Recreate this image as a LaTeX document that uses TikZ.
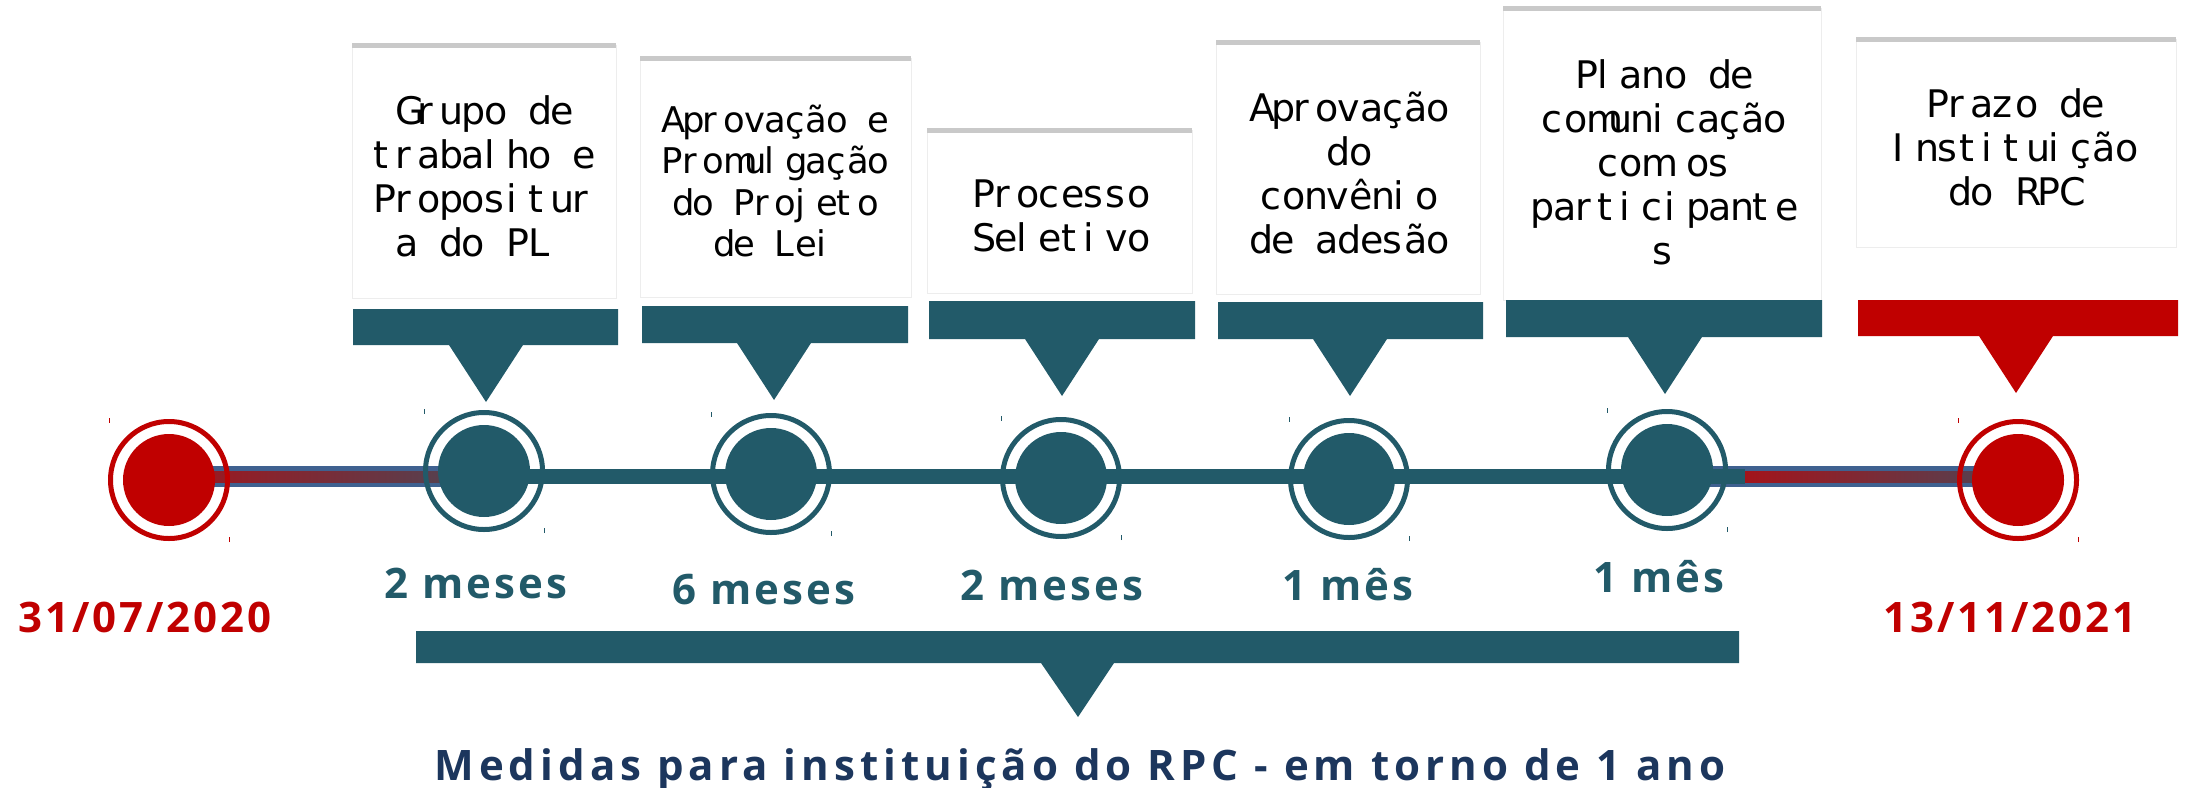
\documentclass[tikz,border=0pt]{standalone}
\usepackage{fontspec}
\setmainfont{DejaVu Sans}
\newfontfamily\boxfont{DejaVu Sans}
\newfontfamily\lblfont[LetterSpace=7]{Open Sans}
\newfontfamily\capfont[LetterSpace=12]{Open Sans}
\usetikzlibrary{positioning,calc}

\definecolor{rpcteal}{HTML}{225A69}
\definecolor{rpcred}{HTML}{C00000}
\definecolor{rpcnavy}{HTML}{1C365D}
\definecolor{bandblue}{HTML}{3F6190}
\definecolor{bandred}{HTML}{A3141B}
\definecolor{banddark}{HTML}{4C4656}
\definecolor{topgray}{HTML}{C9C9C9}
\definecolor{edgegray}{HTML}{EDEDED}

% every letter of the box texts sits in a cell of the same width
\makeatletter
\newcommand\cellw{11.1pt}
\newcommand\mono[1]{\@tfor\monoch:=#1\do{\makebox[\cellw][l]{\monoch}}}
\makeatother

\begin{document}
\begin{tikzpicture}[x=0.5pt,y=-0.5pt,
    boxtext/.style={font=\boxfont\fontsize{19pt}{22pt}\selectfont, align=center, inner sep=0pt},
    lbl/.style={font=\lblfont\bfseries\fontsize{21pt}{24pt}\selectfont, text=#1, anchor=base, inner sep=0pt},
    dot/.style={circle, fill=#1, minimum size=46pt, inner sep=0pt},
    ring/.style={draw=#1, line width=2.5pt},
    band/.style={bandblue, line width=10.5pt},
    mainline/.style={rpcteal, line width=7.5pt}]
    \useasboundingbox (0,0) rectangle (2187,787);

    % white boxes with grey top edge
    \foreach \xl/\xr/\yt/\yb in {352/616/45/298, 640/911/58/297, 927/1192/130/293,
                                 1216/1480/42/294, 1503/1821/8/300, 1856/2176/39/247} {
        \draw[edgegray, thin] (\xl,\yt) rectangle (\xr,\yb);
        \draw[topgray, line width=2.5pt] (\xl,\yt) -- (\xr,\yt);
    }

    % callout bars
    \foreach \xl/\xr/\yt/\yb/\ax/\ay/\col in {353/618/309/345/486/402/rpcteal, 642/908/306/343/774/400/rpcteal,
            929/1195/301/339/1062/396/rpcteal, 1218/1483/302/339/1350/396/rpcteal,
            1506/1822/300/337/1665/394/rpcteal, 1858/2178/300/336/2016/393/rpcred} {
        \fill[\col] (\xl,\yt) -- (\xr,\yt) -- (\xr,\yb) -- (\ax+37,\yb) -- (\ax,\ay)
            -- (\ax-37,\yb) -- (\xl,\yb) -- cycle;
    }

    \node[boxtext] (grupo) at (484,176) {\mono{Grupo~de}\\\mono{trabalho~e}\\\mono{Propositur}\\\mono{a~do~PL~}};
    \node[boxtext, font=\boxfont\fontsize{17.7pt}{20.7pt}\selectfont\renewcommand\cellw{10.3pt}] (aprov) at (775,181)
        {\mono{Aprovação~e}\\\mono{Promulgação}\\\mono{do~Projeto}\\\mono{de~Lei}};
    \node[boxtext] (processo) at (1061,216) {\mono{Processo}\\\mono{Seletivo}};
    \node[boxtext] (convenio) at (1349,173) {\mono{Aprovação}\\\mono{do}\\\mono{convênio}\\\mono{de~adesão}};
    \node[boxtext] (plano) at (1664,162) {\mono{Plano~de}\\\mono{comunicação}\\\mono{com~os}\\\mono{participante}\\\mono{s}};
    \node[boxtext] (prazo) at (2015,147) {\mono{Prazo~de}\\\mono{Instituição}\\\mono{do~RPC}};

    % time line
    \coordinate (p0) at (169,480);
    \coordinate (p1) at (484,471);
    \coordinate (p2) at (771,474);
    \coordinate (p3) at (1061,478);
    \coordinate (p4) at (1349,479);
    \coordinate (p5) at (1667,470);
    \coordinate (p6) at (2018,480);
    \coordinate (ty) at (0,476.5);
    \coordinate (tlend) at (1745,476.5);

    \draw[band] (p0 |- ty) -- (p1 |- ty);
    \draw[band] (p5 |- ty) -- (p6 |- ty);
    \shade[left color=bandred, right color=banddark] ($(p0 |- ty)+(0,-5.5)$) rectangle ($(p1 |- ty)+(0,5.5)$);
    \shade[left color=bandred, right color=banddark] ($(tlend)+(0,-5.5)$) rectangle ($(p6 |- ty)+(0,5.5)$);
    \draw[mainline] (p1 |- ty) -- (tlend);

    \foreach \i/\col in {0/rpcred, 1/rpcteal, 2/rpcteal, 3/rpcteal, 4/rpcteal, 5/rpcteal, 6/rpcred} {
        \node[dot=\col] (d\i) at (p\i) {};
        \draw[ring=\col] (d\i.center) circle (58.5);
        \draw[\col, thin] (d\i.center) ++(-60,-62) -- ++(0,5) (d\i.center) ++(60,62) -- ++(0,-5);
    }

    % durations and dates
    \node[lbl=rpcteal] (m1) at (476,598) {2 meses};
    \node[lbl=rpcteal] (m2) at (764,604) {6 meses};
    \node[lbl=rpcteal] (m3) at (1052,600) {2 meses};
    \node[lbl=rpcteal] (m4) at (1348,600) {1 mês};
    \node[lbl=rpcteal] (m5) at (1659,592) {1 mês};
    \node[lbl=rpcred] (start) at (145,632) {31/07/2020};
    \node[lbl=rpcred] (finish) at (2010,632) {13/11/2021};

    % overall span
    \fill[rpcteal] (416,631) -- (1739,631) -- (1739,663) -- (1114,663) -- (1078,717)
        -- (1041,663) -- (416,663) -- cycle;
    \node[lbl=rpcnavy, font=\capfont\bfseries\fontsize{21pt}{24pt}\selectfont] (medidas) at (1080,780)
        {Medidas para instituição do RPC - em torno de 1 ano};
\end{tikzpicture}
\end{document}
